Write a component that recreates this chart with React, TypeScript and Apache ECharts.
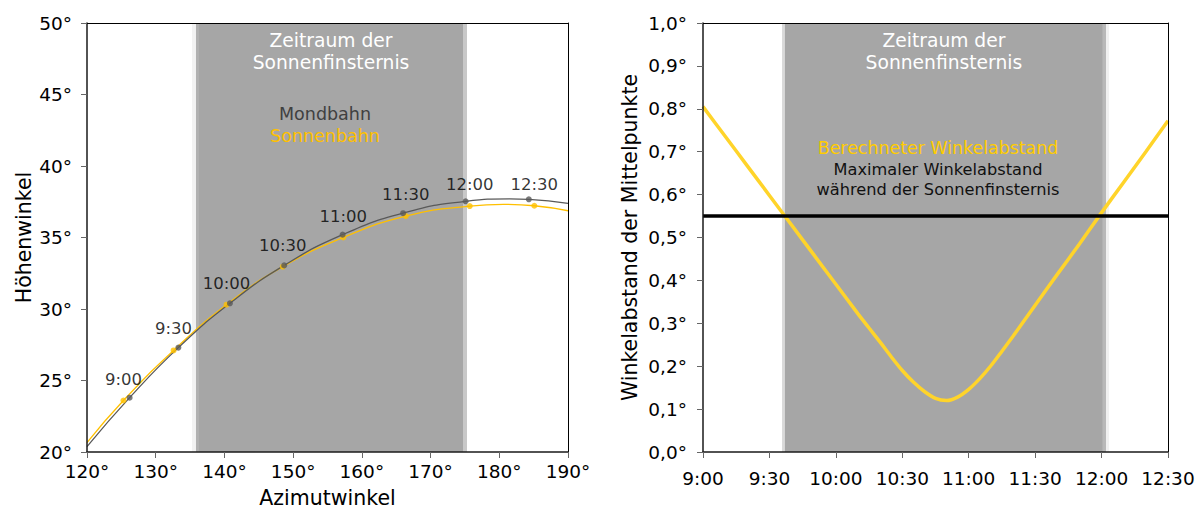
import React, { useEffect, useRef } from "react";
import * as echarts from "echarts";

const FONT = "DejaVu Sans";

// Linkes Diagramm: Bahnen von Sonne und Mond (Azimut / Höhe)
const zeiten = ["9:00", "9:30", "10:00", "10:30", "11:00", "11:30", "12:00", "12:30"];
const mondAzimut = [126.2, 133.3, 140.8, 148.7, 157.2, 166.0, 175.1, 184.3];
const mondHoehe = [23.8, 27.3, 30.4, 33.05, 35.2, 36.7, 37.53, 37.67];
const sonneAzimut = [125.3, 132.6, 140.3, 148.5, 157.3, 166.4, 175.7, 185.1];
const sonneHoehe = [23.6, 27.1, 30.3, 32.96, 35.0, 36.5, 37.2, 37.22];

// Verlauf der Bahnkurven über den gesamten Achsenbereich
const mondBahnAzimut = [120, 126.2, 133.3, 140.8, 148.7, 157.2, 166.0, 175.1, 181.5, 184.3, 190];
const mondBahnHoehe = [20.37, 23.8, 27.3, 30.4, 33.05, 35.2, 36.7, 37.53, 37.7, 37.67, 37.39];
const sonneBahnAzimut = [120, 125.3, 132.6, 140.3, 148.5, 157.3, 166.4, 175.7, 180.6, 185.1, 190];
const sonneBahnHoehe = [20.65, 23.6, 27.1, 30.3, 32.96, 35.0, 36.5, 37.2, 37.32, 37.22, 36.87];

// Zeitraum der Sonnenfinsternis als Azimut (Übergangskante, Kernbereich, Übergangskante)
const finsternisAzimut = [135.28, 135.86, 136.3, 174.72, 175.3];

// Rechtes Diagramm: Winkelabstand der Mittelpunkte (Minuten nach 9:00)
const abstandMinuten = [0, 10, 20, 30, 40, 50, 60, 70, 75, 80, 85, 90, 95, 100, 105, 110, 115, 120, 125, 130, 135, 140, 145, 150, 160, 170, 180, 190, 200, 210];
const abstandWert = [0.805, 0.736, 0.667, 0.598, 0.529, 0.46, 0.391, 0.322, 0.289, 0.256, 0.222, 0.19, 0.163, 0.141, 0.125, 0.12, 0.128, 0.146, 0.171, 0.201, 0.235, 0.27, 0.306, 0.342, 0.414, 0.485, 0.558, 0.629, 0.7, 0.772];
const maxAbstand = 0.554;

// Zeitraum der Sonnenfinsternis in Minuten nach 9:00
const finsternisMinuten = [35.7, 37.0, 180.6, 182.0, 183.4];

const START = 9 * 60;
const fmtZeit = (m: number) => `${Math.floor(m / 60)}:${String(Math.round(m % 60)).padStart(2, "0")}`;
const fmtGrad = (v: number) => `${v}°`;
const fmtGradKomma = (v: number) => `${v.toFixed(1).replace(".", ",")}°`;

const zip = (a: number[], b: number[]) => a.map((x, i) => [x, b[i]]);

const bandLabel = {
  show: true,
  position: "insideTop",
  distance: 6,
  color: "#ffffff",
  fontFamily: FONT,
  fontSize: 18.7,
  lineHeight: 22,
  formatter: "Zeitraum der\nSonnenfinsternis",
};

function axisPair(gridIndex: number, min: number, max: number, interval: number, fmt: (v: number) => string, margin: number, name: string, nameGap: number) {
  return [
    {
      gridIndex,
      type: "value",
      min,
      max,
      interval,
      z: 5,
      axisLine: { show: true, onZero: false, lineStyle: { color: "#1a1a1a", width: 1.5 } },
      axisTick: { show: true, length: 6, lineStyle: { color: "#666", width: 1 } },
      axisLabel: { formatter: fmt, fontSize: 18.5, color: "#000", fontFamily: FONT, margin },
      splitLine: { show: false },
      name,
      nameLocation: "middle",
      nameGap,
      nameTextStyle: { fontSize: 20.5, color: "#000", fontFamily: FONT },
    },
    {
      gridIndex,
      type: "value",
      min,
      max,
      z: 5,
      axisLine: { show: true, onZero: false, lineStyle: { color: "#000", width: 1 } },
      axisTick: { show: false },
      axisLabel: { show: false },
      splitLine: { show: false },
    },
  ];
}

export default function App() {
  const ref = useRef<HTMLDivElement>(null);

  useEffect(() => {
    if (!ref.current) return;
    const chart = echarts.init(ref.current, undefined, { renderer: "svg" });

    const [xl0, xl1] = axisPair(0, 120, 190, 10, fmtGrad, 10, "Azimutwinkel", 35);
    const [xr0, xr1] = axisPair(1, START, START + 210, 30, fmtZeit, 17, "", 0);
    const [yl0, yl1] = axisPair(0, 20, 50, 5, fmtGrad, 15, "Höhenwinkel", 53);
    const [yr0, yr1] = axisPair(1, 0, 1, 0.1, fmtGradKomma, 16, "Winkelabstand der Mittelpunkte", 63);

    const option = {
      animation: false,
      backgroundColor: "#ffffff",
      textStyle: { fontFamily: FONT },
      grid: [
        { left: 87, top: 23, width: 481, height: 429, outerBoundsMode: "none", containLabel: false },
        { left: 703, top: 23, width: 465, height: 429, outerBoundsMode: "none", containLabel: false },
      ],
      xAxis: [
        { ...xl0, position: "bottom" },
        { ...xl1, position: "top" },
        { ...xr0, position: "bottom" },
        { ...xr1, position: "top" },
      ],
      yAxis: [
        { ...yl0, position: "left" },
        { ...yl1, position: "right" },
        { ...yr0, position: "left" },
        { ...yr1, position: "right" },
      ],
      series: [
        {
          type: "line",
          xAxisIndex: 0,
          yAxisIndex: 0,
          data: [],
          z: 1,
          silent: true,
          markArea: {
            silent: true,
            data: [
              [{ xAxis: finsternisAzimut[0], itemStyle: { color: "#f2f2f2" } }, { xAxis: finsternisAzimut[1] }],
              [{ xAxis: finsternisAzimut[1], itemStyle: { color: "#b0b0b0" } }, { xAxis: finsternisAzimut[2] }],
              [{ xAxis: finsternisAzimut[2], itemStyle: { color: "#a6a6a6" }, label: bandLabel }, { xAxis: finsternisAzimut[3] }],
              [{ xAxis: finsternisAzimut[3], itemStyle: { color: "#c8c8c8" } }, { xAxis: finsternisAzimut[4] }],
            ],
          },
        },
        {
          type: "line",
          name: "Sonnenbahn",
          xAxisIndex: 0,
          yAxisIndex: 0,
          data: zip(sonneBahnAzimut, sonneBahnHoehe),
          smooth: 0.5,
          showSymbol: false,
          z: 3,
          lineStyle: { color: "#ffc000", width: 1.3 },
          itemStyle: { color: "#ffc000" },
        },
        {
          type: "line",
          name: "Mondbahn",
          xAxisIndex: 0,
          yAxisIndex: 0,
          data: zip(mondBahnAzimut, mondBahnHoehe),
          smooth: 0.5,
          showSymbol: false,
          z: 3,
          lineStyle: { color: "#595959", width: 1.3 },
          itemStyle: { color: "#595959" },
        },
        {
          type: "scatter",
          xAxisIndex: 0,
          yAxisIndex: 0,
          data: zip(sonneAzimut, sonneHoehe),
          symbolSize: 6,
          z: 4,
          itemStyle: { color: "#ffc000" },
          label: {
            show: true,
            position: "top",
            distance: 10,
            formatter: (p: any) => zeiten[p.dataIndex],
            color: "#000",
            fontFamily: FONT,
            fontSize: 16.5,
          },
        },
        {
          type: "scatter",
          xAxisIndex: 0,
          yAxisIndex: 0,
          data: zip(mondAzimut, mondHoehe),
          symbolSize: 6,
          z: 4,
          itemStyle: { color: "#595959" },
        },
        {
          type: "line",
          xAxisIndex: 2,
          yAxisIndex: 2,
          data: [],
          z: 1,
          silent: true,
          markArea: {
            silent: true,
            data: [
              [{ xAxis: START + finsternisMinuten[0], itemStyle: { color: "#d9d9d9" } }, { xAxis: START + finsternisMinuten[1] }],
              [{ xAxis: START + finsternisMinuten[1], itemStyle: { color: "#a6a6a6" }, label: bandLabel }, { xAxis: START + finsternisMinuten[2] }],
              [{ xAxis: START + finsternisMinuten[2], itemStyle: { color: "#b8b8b8" } }, { xAxis: START + finsternisMinuten[3] }],
              [{ xAxis: START + finsternisMinuten[3], itemStyle: { color: "#f0f0f0" } }, { xAxis: START + finsternisMinuten[4] }],
            ],
          },
        },
        {
          type: "line",
          name: "Berechneter Winkelabstand",
          xAxisIndex: 2,
          yAxisIndex: 2,
          data: abstandMinuten.map((m, i) => [START + m, abstandWert[i]]),
          smooth: 0.3,
          showSymbol: false,
          z: 3,
          lineStyle: { color: "#ffd42a", width: 3.5 },
          itemStyle: { color: "#ffd42a" },
          markLine: {
            silent: true,
            symbol: ["none", "none"],
            label: { show: false },
            lineStyle: { color: "#000", width: 3.5, type: "solid" },
            data: [{ yAxis: maxAbstand }],
          },
        },
      ],
      graphic: [
        { type: "text", x: 325, y: 114, z: 10, style: { text: "Mondbahn", fill: "#404040", font: `17.5px "${FONT}"`, textAlign: "center", textVerticalAlign: "middle" } },
        { type: "text", x: 325, y: 136, z: 10, style: { text: "Sonnenbahn", fill: "#ffc000", font: `17.5px "${FONT}"`, textAlign: "center", textVerticalAlign: "middle" } },
        { type: "text", x: 938, y: 148, z: 10, style: { text: "Berechneter Winkelabstand", fill: "#ffcc00", font: `17.4px "${FONT}"`, textAlign: "center", textVerticalAlign: "middle" } },
        { type: "text", x: 938, y: 169, z: 10, style: { text: "Maximaler Winkelabstand", fill: "#111", font: `16.2px "${FONT}"`, textAlign: "center", textVerticalAlign: "middle" } },
        { type: "text", x: 938, y: 189, z: 10, style: { text: "während der Sonnenfinsternis", fill: "#111", font: `16.2px "${FONT}"`, textAlign: "center", textVerticalAlign: "middle" } },
      ],
    };

    chart.setOption(option as any);
    return () => chart.dispose();
  }, []);

  return <div ref={ref} style={{ position: "fixed", left: 0, top: 0, width: 1202, height: 509 }} />;
}
